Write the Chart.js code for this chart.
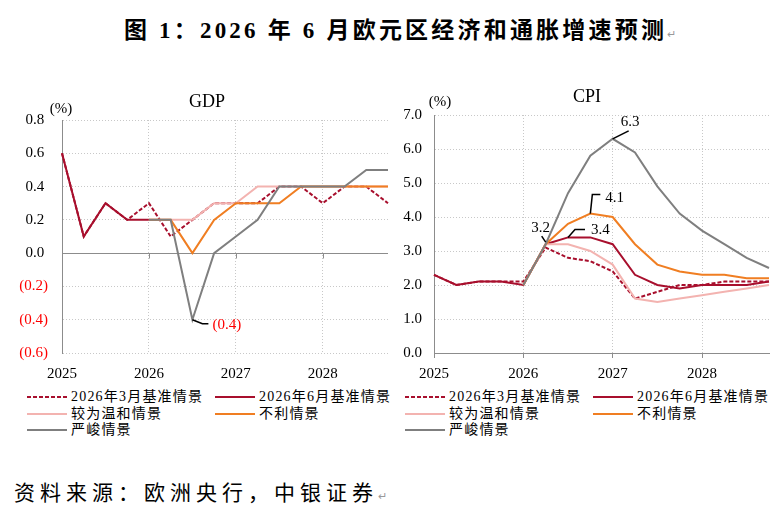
<!DOCTYPE html>
<html>
<head>
<meta charset="utf-8">
<script src="https://cdn.jsdelivr.net/npm/chart.js@4.4.1/dist/chart.umd.min.js"></script>
<style>
  body { margin: 0; background: #fff; }
  #page { position: relative; width: 782px; height: 514px; overflow: hidden; background: #fff; }
  #title {
    position: absolute; left: 0; top: 17px; width: 800px; text-align: center;
    font-family: "Liberation Serif", "Noto Sans CJK SC", serif; font-weight: bold;
    font-size: 23px; letter-spacing: 3.2px; line-height: 28px; color: #000;
  }
  .ret { font-size: 11px; color: #999; font-weight: normal; letter-spacing: 0; }
  canvas { position: absolute; top: 80px; }
  #gdpChart { left: 0; }
  #cpiChart { left: 395px; }
  .legend {
    position: absolute; top: 389px;
    display: grid; grid-template-columns: 188px 188px; row-gap: 0.5px;
    font-family: "Liberation Serif", "Noto Sans CJK SC", serif; font-size: 14px;
    letter-spacing: 1.2px; line-height: 16px; color: #000;
  }
  .legend .item { display: flex; align-items: center; white-space: nowrap; }
  .legend .swatch { width: 40px; height: 2px; margin-right: 4px; flex: none; }
  #source {
    position: absolute; left: 14px; top: 479px;
    font-family: "Liberation Serif", "Noto Sans CJK SC", serif;
    font-size: 21px; letter-spacing: 5px; line-height: 28px; color: #000;
  }
</style>
</head>
<body>
<div id="page">
  <div id="title">图 1：2026 年 6 月欧元区经济和通胀增速预测<span class="ret">↵</span></div>
  <canvas id="gdpChart" width="395" height="300"></canvas>
  <canvas id="cpiChart" width="387" height="300"></canvas>
  <div class="legend" id="gdpLegend" style="left:27px"></div>
  <div class="legend" id="cpiLegend" style="left:405px"></div>
  <div id="source">资料来源：欧洲央行，中银证券<span class="ret">↵</span></div>
</div>
<script>
// quarterly x categories, 2025Q1 .. 2028Q4
const quarters = ['2025Q1', '2025Q2', '2025Q3', '2025Q4',
                  '2026Q1', '2026Q2', '2026Q3', '2026Q4',
                  '2027Q1', '2027Q2', '2027Q3', '2027Q4',
                  '2028Q1', '2028Q2', '2028Q3', '2028Q4'];
const yearTicks = ['2025', '2026', '2027', '2028'];

const scenarioNames = ['2026年3月基准情景', '2026年6月基准情景', '较为温和情景', '不利情景', '严峻情景'];

// GDP, % q/q
const gdpMarch   = [0.6, 0.1, 0.3, 0.2, 0.3, 0.1, 0.2, 0.3, 0.3, 0.3, 0.4, 0.4, 0.3, 0.4, 0.4, 0.3];
const gdpJune    = [0.6, 0.1, 0.3, 0.2, 0.2, null, null, null, null, null, null, null, null, null, null, null];
const gdpMild    = [null, null, null, null, 0.2, 0.2, 0.2, 0.3, 0.3, 0.4, 0.4, 0.4, 0.4, 0.4, 0.4, 0.4];
const gdpAdverse = [null, null, null, null, 0.2, 0.2, 0.0, 0.2, 0.3, 0.3, 0.3, 0.4, 0.4, 0.4, 0.4, 0.4];
const gdpSevere  = [null, null, null, null, 0.2, 0.2, -0.4, 0.0, 0.1, 0.2, 0.4, 0.4, 0.4, 0.4, 0.5, 0.5];
const gdpTicks = [-0.6, -0.4, -0.2, 0.0, 0.2, 0.4, 0.6, 0.8];

// CPI, % y/y
const cpiMarch   = [2.3, 2.0, 2.1, 2.1, 2.1, 3.1, 2.8, 2.7, 2.4, 1.6, 1.8, 2.0, 2.0, 2.1, 2.1, 2.1];
const cpiJune    = [2.3, 2.0, 2.1, 2.1, 2.0, 3.2, 3.4, 3.4, 3.2, 2.3, 2.0, 1.9, 2.0, 2.0, 2.0, 2.1];
const cpiMild    = [null, null, null, null, 2.0, 3.2, 3.2, 3.0, 2.6, 1.6, 1.5, 1.6, 1.7, 1.8, 1.9, 2.0];
const cpiAdverse = [null, null, null, null, 2.0, 3.2, 3.8, 4.1, 4.0, 3.2, 2.6, 2.4, 2.3, 2.3, 2.2, 2.2];
const cpiSevere  = [null, null, null, null, 2.0, 3.2, 4.7, 5.8, 6.3, 5.9, 4.9, 4.1, 3.6, 3.2, 2.8, 2.5];
const cpiTicks = [0, 1, 2, 3, 4, 5, 6, 7];

const DARK_RED = '#A80F2D';
const PINK = '#F3B3B0';
const ORANGE = '#F07E22';
const GRAY = '#7F7F7F';
const AXIS = '#8C8C8C';
const GRID = '#C8C8C8';
const SERIF = '"Liberation Serif", "Times New Roman", serif';

const lineStyles = [
    { color: DARK_RED, dash: [4, 2], order: 4 },
    { color: DARK_RED, dash: [], order: 5 },
    { color: PINK, dash: [], order: 3 },
    { color: ORANGE, dash: [], order: 2 },
    { color: GRAY, dash: [], order: 1 }
];

function makeDatasets(seriesList) {
    return seriesList.map((data, i) => ({
        label: scenarioNames[i],
        data: data,
        borderColor: lineStyles[i].color,
        borderDash: lineStyles[i].dash,
        borderWidth: 2,
        order: lineStyles[i].order,
        pointRadius: 0,
        tension: 0,
        spanGaps: false
    }));
}

// titles, zero axis and label call-outs
const decorPlugin = {
    id: 'decor',
    beforeDatasetsDraw(chart, args, opts) {
        if (!opts.zeroLine) return;
        const { ctx, chartArea } = chart;
        const x = chart.scales.x, y = chart.scales.y;
        const y0 = Math.round(y.getPixelForValue(0)) + 0.5;
        ctx.save();
        ctx.strokeStyle = AXIS;
        ctx.lineWidth = 1;
        ctx.beginPath();
        ctx.moveTo(chartArea.left, y0);
        ctx.lineTo(chartArea.right, y0);
        quarters.forEach((q, i) => {
            if (i > 0 && i % 4 === 0) {
                const px = Math.round(x.getPixelForValue(i)) + 0.5;
                ctx.moveTo(px, y0);
                ctx.lineTo(px, y0 + 5);
            }
        });
        ctx.stroke();
        ctx.restore();
    },
    afterDatasetsDraw(chart, args, opts) {
        const ctx = chart.ctx;
        (opts.notes || []).forEach(n => {
            const pt = chart.getDatasetMeta(n.ds).data[n.idx];
            ctx.save();
            ctx.strokeStyle = '#000';
            ctx.lineWidth = 1.5;
            ctx.beginPath();
            ctx.moveTo(pt.x + n.path[0][0], pt.y + n.path[0][1]);
            n.path.slice(1).forEach(p => ctx.lineTo(pt.x + p[0], pt.y + p[1]));
            ctx.stroke();
            ctx.fillStyle = n.color || '#000';
            ctx.font = '15px ' + SERIF;
            ctx.textAlign = n.align || 'left';
            ctx.textBaseline = 'middle';
            ctx.fillText(n.text, pt.x + n.tx, pt.y + n.ty);
            ctx.restore();
        });
    },
    afterDraw(chart, args, opts) {
        const ctx = chart.ctx;
        ctx.save();
        ctx.fillStyle = '#000';
        ctx.textBaseline = 'middle';
        ctx.textAlign = 'center';
        ctx.font = '18px ' + SERIF;
        ctx.fillText(opts.title, opts.titleX, opts.titleY);
        ctx.font = '15px ' + SERIF;
        ctx.fillText('(%)', opts.unitX, opts.unitY);
        ctx.restore();
    }
};

function makeChart(canvasId, seriesList, cfg) {
    return new Chart(document.getElementById(canvasId), {
        type: 'line',
        data: { labels: quarters, datasets: makeDatasets(seriesList) },
        plugins: [decorPlugin],
        options: {
            responsive: false,
            animation: false,
            devicePixelRatio: 1,
            layout: { padding: cfg.padding },
            plugins: {
                legend: { display: false },
                tooltip: { enabled: false },
                decor: cfg.decor
            },
            scales: {
                x: {
                    offset: false,
                    grid: {
                        color: c => (c.index % 4 === 0 ? GRID : 'rgba(0,0,0,0)'),
                        lineWidth: 1,
                        drawTicks: cfg.xTicks,
                        tickLength: 5,
                        tickColor: c => (c.index % 4 === 0 ? AXIS : 'rgba(0,0,0,0)'),
                        tickBorderDash: []
                    },
                    border: { display: cfg.xBorder, color: AXIS, dash: [1, 2] },
                    ticks: {
                        autoSkip: false,
                        maxRotation: 0,
                        padding: cfg.xTicks ? 7 : 12,
                        color: '#000',
                        font: { family: SERIF, size: 15 },
                        callback: (v, i) => (i % 4 === 0 ? yearTicks[i / 4] : '')
                    },
                    afterFit: s => { s.height = 27; s.paddingLeft = 0; s.paddingRight = 0; }
                },
                y: {
                    min: cfg.ticks[0],
                    max: cfg.ticks[cfg.ticks.length - 1],
                    afterBuildTicks: s => { s.ticks = cfg.ticks.map(v => ({ value: v })); },
                    grid: { color: GRID, lineWidth: 1, drawTicks: false },
                    border: { display: true, color: AXIS, dash: [1, 2] },
                    ticks: {
                        padding: cfg.yPad,
                        color: c => (c.tick && c.tick.value < -1e-9 ? '#FF0000' : '#000'),
                        font: { family: SERIF, size: 15 },
                        callback: v => (v < -1e-9 ? '(' + Math.abs(v).toFixed(1) + ')' : v.toFixed(1) + cfg.posSuffix)
                    },
                    afterFit: s => { s.width = cfg.yWidth; s.paddingTop = 0; s.paddingBottom = 0; }
                }
            }
        }
    });
}

makeChart('gdpChart', [gdpMarch, gdpJune, gdpMild, gdpAdverse, gdpSevere], {
    ticks: gdpTicks,
    padding: { left: 0, right: 7, top: 40, bottom: 0 },
    yWidth: 62, yPad: 14, posSuffix: ' ',
    xTicks: false, xBorder: false,
    decor: {
        title: 'GDP', titleX: 207, titleY: 22, unitX: 61, unitY: 29,
        zeroLine: true,
        notes: [
            { ds: 4, idx: 6, text: '(0.4)', color: '#FF0000', path: [[0, 0], [10, 4], [16, 4]], tx: 20, ty: 5 }
        ]
    }
});

makeChart('cpiChart', [cpiMarch, cpiJune, cpiMild, cpiAdverse, cpiSevere], {
    ticks: cpiTicks,
    padding: { left: 0, right: 13, top: 35, bottom: 0 },
    yWidth: 39, yPad: 12, posSuffix: '',
    xTicks: true, xBorder: true,
    decor: {
        title: 'CPI', titleX: 192, titleY: 17, unitX: 45, unitY: 22,
        zeroLine: false,
        notes: [
            { ds: 4, idx: 8, text: '6.3', path: [[0, 0], [16, -8]], tx: 8, ty: -17 },
            { ds: 3, idx: 7, text: '4.1', path: [[0, 0], [2, -19], [10, -19]], tx: 15, ty: -16 },
            { ds: 1, idx: 6, text: '3.4', path: [[0, 0], [7, -8], [17, -8]], tx: 23, ty: -7 },
            { ds: 1, idx: 5, text: '3.2', path: [[0, -2], [-4, -8]], tx: -5, ty: -16, align: 'center' }
        ]
    }
});

// html legends, two columns like the original
function buildLegend(id) {
    const box = document.getElementById(id);
    scenarioNames.forEach((name, i) => {
        const st = lineStyles[i];
        const item = document.createElement('div');
        item.className = 'item';
        const sw = document.createElement('span');
        sw.className = 'swatch';
        sw.style.background = st.dash.length
            ? `repeating-linear-gradient(to right, ${st.color} 0 4px, transparent 4px 6px)`
            : st.color;
        const tx = document.createElement('span');
        tx.textContent = name;
        item.appendChild(sw);
        item.appendChild(tx);
        box.appendChild(item);
    });
}
buildLegend('gdpLegend');
buildLegend('cpiLegend');
</script>
</body>
</html>
